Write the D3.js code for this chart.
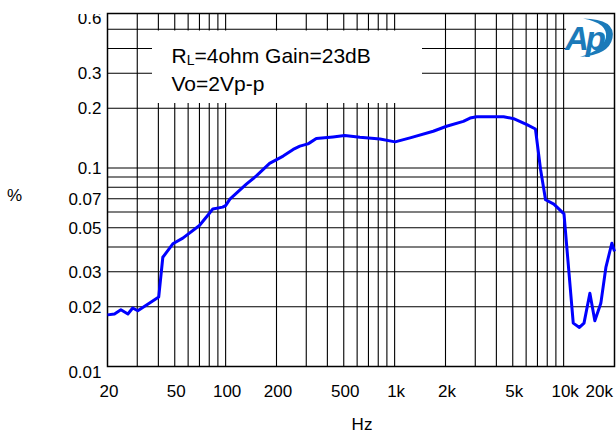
<!DOCTYPE html>
<html><head><meta charset="utf-8">
<script src="https://cdn.jsdelivr.net/npm/d3@7"></script>
<style>html,body{margin:0;padding:0;background:#fff;}svg{display:block;font-family:"Liberation Sans",Arial,sans-serif;}</style>
</head><body>
<script>
// ---- data ----
const freqHz = [20,22,24,26.4,28.2,30.2,34.6,40.2,42.5,48.7,55.8,70,80,84,96,100,106,132.6,152,182,219,251,275,307,314,344,432,506,623,820,1006,1234,1692,2030,2550,2796,3060,4413,5060,6065,6812,7300,7816,8752,10050,11400,12400,13200,14300,15300,16600,17800,19300,20000];
const thdPct = [0.0182,0.0184,0.0193,0.0184,0.0197,0.0191,0.0206,0.0224,0.0355,0.0415,0.0443,0.0513,0.059,0.0622,0.0635,0.0646,0.0697,0.0829,0.0912,0.1055,0.1148,0.124,0.1288,0.1323,0.1338,0.1407,0.1434,0.1457,0.1428,0.14,0.1354,0.1418,0.1531,0.1622,0.1718,0.1784,0.1813,0.1813,0.1772,0.1654,0.1572,0.0985,0.0692,0.0658,0.0587,0.01654,0.01573,0.01654,0.0234,0.017,0.0208,0.0317,0.0418,0.038];
const xTickValues = [20,50,100,200,500,1000,2000,5000,10000,20000];
const xTickLabels = ["20","50","100","200","500","1k","2k","5k","10k","20k"];
const yTickValues = [0.01,0.02,0.03,0.05,0.07,0.1,0.2,0.3,0.6];
const yTickLabels = ["0.01","0.02","0.03","0.05","0.07","0.1","0.2","0.3","0.6"];
const xGrid = [30,40,50,60,70,80,90,100,200,300,400,500,600,700,800,900,1000,2000,3000,4000,5000,6000,7000,8000,9000,10000];
const yGrid = [0.02,0.03,0.04,0.05,0.06,0.07,0.08,0.09,0.1,0.2,0.3,0.4,0.5];
const legendLines = ["=4ohm Gain=23dB","Vo=2Vp-p"];
const xTitle = "Hz", yTitle = "%";

// ---- layout ----
const W=616,H=435, L=107.5, R=614.5, T=13.5, B=366.5;
const svg=d3.select("body").append("svg").attr("width",W).attr("height",H);
const x=d3.scaleLog().domain([20,20000]).range([L,R]);
const y=d3.scaleLog().domain([0.01,0.6]).range([B,T]);

// grid
const g=svg.append("g");
g.selectAll("line.vx").data(xGrid).join("line")
  .attr("x1",d=>x(d)).attr("x2",d=>x(d)).attr("y1",T).attr("y2",B)
  .attr("stroke","#000").attr("stroke-width",1.1);
g.selectAll("line.hy").data(yGrid).join("line")
  .attr("y1",d=>y(d)).attr("y2",d=>y(d)).attr("x1",L).attr("x2",R)
  .attr("stroke","#000").attr("stroke-width",1.1);

// legend box (white, hides grid)
svg.append("rect").attr("x",152).attr("y",30.5).attr("width",270).attr("height",72.5).attr("fill","#fff");
// logo background
svg.append("rect").attr("x",566).attr("y",16).attr("width",48).attr("height",41).attr("fill","#fff");

// frame
svg.append("rect").attr("x",L).attr("y",T).attr("width",R-L).attr("height",B-T)
  .attr("fill","none").attr("stroke","#000").attr("stroke-width",1.5);

// curve
const pts=freqHz.map((f,i)=>[f,thdPct[i]]);
svg.append("path").datum(pts)
  .attr("d",d3.line().x(d=>x(d[0])).y(d=>y(d[1])))
  .attr("fill","none").attr("stroke","#0000ff").attr("stroke-width",3).attr("stroke-linejoin","round");

// axes
const yAxis=d3.axisLeft(y).tickValues(yTickValues).tickFormat((d,i)=>yTickLabels[i]).tickSize(0).tickPadding(0);
const ya=svg.append("g").attr("transform",`translate(101.5,0)`).call(yAxis);
ya.select(".domain").remove();
ya.selectAll("text").attr("font-size",17).attr("fill","#000").attr("font-family","Liberation Sans, Arial, sans-serif")
  .attr("dy",(d,i)=> i===0 ? "0.65em" : (i===yTickValues.length-1 ? "0.6em" : "0.33em"));
// page top edge cuts the top label, as in the reference
svg.append("rect").attr("x",40).attr("y",0).attr("width",66).attr("height",14).attr("fill","#fff");

const xAxis=d3.axisBottom(x).tickValues(xTickValues).tickFormat((d,i)=>xTickLabels[i]).tickSize(0).tickPadding(0);
const xa=svg.append("g").attr("transform",`translate(0,${B})`).call(xAxis);
xa.select(".domain").remove();
xa.selectAll("text").attr("font-size",17).attr("fill","#000").attr("font-family","Liberation Sans, Arial, sans-serif")
  .attr("y",30.5).attr("dy",0)
  .attr("text-anchor",(d,i)=> i===xTickValues.length-1 ? "end" : "middle")
  .attr("dx",(d,i)=> i===xTickValues.length-1 ? -2 : 1);

// titles
svg.append("text").attr("x",362).attr("y",430).attr("text-anchor","middle").attr("font-size",17).text(xTitle);
svg.append("text").attr("x",14.5).attr("y",201).attr("text-anchor","middle").attr("font-size",17).text(yTitle);

// legend text
const lt=svg.append("text").attr("x",171.5).attr("y",62.5).attr("font-size",21);
lt.append("tspan").text("R");
lt.append("tspan").attr("font-size",14).attr("dy",2).text("L");
lt.append("tspan").attr("dy",-2).text(legendLines[0]);
svg.append("text").attr("x",171.5).attr("y",90.5).attr("font-size",21).text(legendLines[1]);

// Ap logo
const logo=svg.append("g");
logo.append("path").attr("d","M583,18.5 Q616,19 612.5,38 Q609,55 580,57 Q603,50 606,37.5 Q608,23 583,18.5 Z").attr("fill","#1b7ab9");
logo.append("text").attr("x",565).attr("y",50).attr("font-size",33).attr("font-style","italic").attr("font-weight","bold")
  .attr("fill","#1b7ab9").attr("letter-spacing",-3).text("Ap");
</script>
</body></html>
